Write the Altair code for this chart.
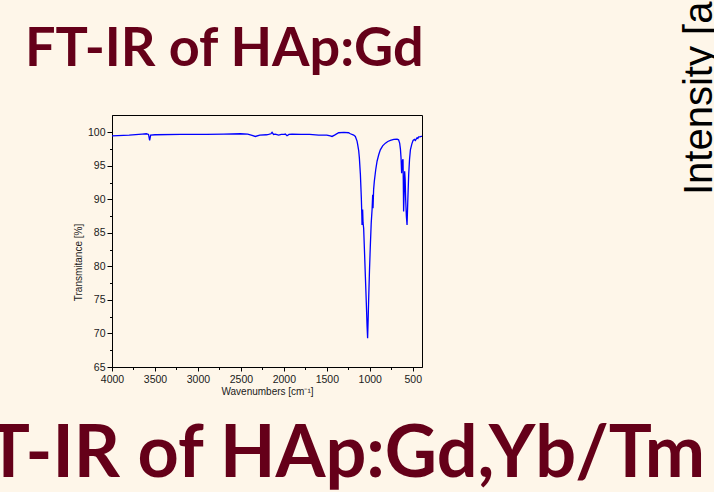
import altair as alt
import pandas as pd

# ---- data ----
wavenumber = [4000, 3800, 3650, 3600, 3575, 3562, 3550, 3500, 3200, 2900, 2700, 2506, 2420, 2370,
              2332, 2280, 2200, 2177, 2150, 2137, 2120, 2100, 2060, 2030, 1995, 1983, 1963, 1940,
              1905, 1800, 1700, 1595, 1500, 1460, 1439, 1410, 1362, 1300, 1246, 1226, 1187, 1168,
              1148, 1141, 1129, 1121, 1109, 1098, 1092, 1090, 1086, 1083, 1078, 1071, 1062, 1051,
              1040, 1031, 1025, 1019, 1013, 1003, 993, 983, 973, 966, 964, 962, 955, 947, 930, 915,
              895, 877, 850, 818, 790, 760, 720, 682, 665, 652, 643, 636, 629, 625, 621, 613, 610,
              606, 600, 594, 588, 582, 574, 566, 558, 547, 537, 527, 510, 496, 480, 469, 460, 449,
              440, 431, 415, 403, 392]
transmittance = [99.5, 99.6, 99.75, 99.8, 99.7, 98.8, 99.6, 99.65, 99.7, 99.7, 99.75, 99.8, 99.75, 99.55,
                 99.4, 99.6, 99.65, 99.7, 99.8, 100.0, 99.7, 99.75, 99.6, 99.7, 99.7, 99.75, 99.5, 99.7,
                 99.75, 99.7, 99.7, 99.6, 99.6, 99.5, 99.4, 99.6, 99.95, 100.0, 99.95, 99.8, 99.6, 99.4,
                 98.7, 98.2, 97.3, 96.2, 93.7, 90.2, 87.5, 86.2, 87.5, 88.5, 86.5, 85.7, 82.5, 78.5,
                 74.5, 71.0, 69.3, 72.0, 75.0, 79.5, 83.2, 86.5, 88.5, 90.7, 89.5, 88.7, 91.5, 92.7, 94.5, 95.7,
                 96.7, 97.4, 98.0, 98.4, 98.65, 98.8, 98.95, 99.0, 98.9, 98.4, 97.5, 96.2, 93.9, 95.0, 95.7, 96.0, 93.0,
                 88.2, 91.0, 94.2, 93.0, 90.0, 87.5, 86.2, 89.5, 93.7, 96.0, 97.4, 98.3, 98.8, 98.95, 98.8, 99.0, 99.2,
                 99.1, 99.35, 99.35, 99.4, 99.4]

x_major = [4000, 3500, 3000, 2500, 2000, 1500, 1000, 500]
x_minor = [3750, 3250, 2750, 2250, 1750, 1250, 750]
y_major = [65, 70, 75, 80, 85, 90, 95, 100]
y_minor = [67.5, 72.5, 77.5, 82.5, 87.5, 92.5, 97.5]

slide_texts = ["FT-IR of HAp:Gd", "FT-IR of HAp:Gd,Yb/Tm", "Intensity [a.u.]"]
x_title = "Wavenumbers [cm\u207b\u00b9]"
y_title = "Transmitance [%]"

df = pd.DataFrame({"wn": wavenumber, "T": transmittance})

BG = "#FEF6E9"
MAROON = "#650019"
AXIS_FONT = "Liberation Sans"
TITLE_FONT = "Lato"

xscale = alt.Scale(domain=[4000, 392], nice=False, zero=False)
yscale = alt.Scale(domain=[65, 102.6], nice=False, zero=False)

line = alt.Chart(df).mark_line(color="#0000FF", strokeWidth=1.3, clip=True).encode(
    x=alt.X("wn:Q", scale=xscale,
            axis=alt.Axis(values=x_major, format="d", title=x_title, tickSize=4,
                          labelPadding=3, titlePadding=2, labelFlush=False)),
    y=alt.Y("T:Q", scale=yscale,
            axis=alt.Axis(values=y_major, format="d", title=y_title, tickSize=5,
                          labelPadding=2, titleX=-29, titleY=147)),
)

minor = alt.Chart(df).mark_point(opacity=0).encode(
    x=alt.X("wn:Q", scale=xscale,
            axis=alt.Axis(values=x_minor, labels=False, tickSize=2.5, domain=False,
                          title=None, orient="bottom")),
    y=alt.Y("T:Q", scale=yscale,
            axis=alt.Axis(values=y_minor, labels=False, tickSize=2.5, domain=False,
                          title=None, orient="left")),
)


def slide_text(s, x, y, size, font, color, weight="normal", align="left", angle=0):
    kw = dict(fontSize=size, font=font, color=color, fontWeight=weight, align=align,
              baseline="alphabetic")
    if angle:
        kw["angle"] = angle
    return alt.Chart(pd.DataFrame({"t": [s]})).mark_text(**kw).encode(
        x=alt.value(x), y=alt.value(y), text="t:N")


top_title = slide_text(slide_texts[0], -87, -49, 54, TITLE_FONT, MAROON, weight="bold")
bottom_title = slide_text(slide_texts[1], 593, 362, 72, TITLE_FONT, MAROON, weight="bold",
                          align="right")
side_text = slide_text(slide_texts[2], 600, 80, 40, AXIS_FONT, "#000000", angle=270)

chart = alt.layer(line, minor, top_title, bottom_title, side_text).resolve_axis(
    x="independent", y="independent"
).properties(
    width=310, height=252,
    autosize=alt.AutoSizeParams(type="none"),
    padding={"left": 112, "top": 115, "right": 292, "bottom": 125},
    background=BG,
).configure_view(
    stroke="black", strokeWidth=1
).configure_axis(
    labelFont=AXIS_FONT, titleFont=AXIS_FONT, labelFontSize=10.5, titleFontSize=10,
    titleFontWeight="normal", labelColor="#1a1a1a", titleColor="#1a1a1a",
    domainColor="black", tickColor="black", grid=False, domainWidth=1, tickWidth=1,
)

chart.save("out.html", embed_options={"renderer": "svg", "actions": False})
